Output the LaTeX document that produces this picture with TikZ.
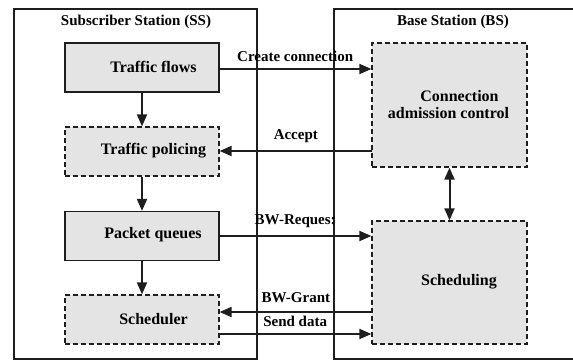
\documentclass[tikz,border=0pt]{standalone}
\usepackage{fontspec}
\setmainfont{Liberation Serif}
\usetikzlibrary{arrows.meta}
\definecolor{boxfill}{HTML}{E4E4E4}
\definecolor{ink}{HTML}{1E1E1E}
\begin{document}
\begin{tikzpicture}[x=1pt,y=-1pt,
  station/.style={draw=ink,line width=1.1pt},
  solidbox/.style={draw=ink,fill=boxfill,line width=1.3pt,minimum width=154pt,minimum height=49pt,inner sep=0pt},
  dashbox/.style={solidbox,dashed,dash pattern=on 5pt off 3pt},
  label/.style={font=\fontsize{16}{17.5}\selectfont\bfseries,align=center,inner sep=0pt},
  title/.style={font=\fontsize{15}{17}\selectfont\bfseries,inner sep=0pt},
  msg/.style={font=\fontsize{15}{16}\selectfont\bfseries,inner sep=0pt},
  flow/.style={draw=ink,line width=2pt,-{Triangle[length=12pt,width=10pt]}},
  dflow/.style={draw=ink,line width=2pt,{Triangle[length=12pt,width=10pt]}-{Triangle[length=12pt,width=10pt]}}]
\useasboundingbox (0,0) rectangle (573,360);
\fill[white] (0,0) rectangle (573,360);

% station frames
\draw[station] (14,9) rectangle (257,359);
\draw[station] (573,9) -- (334,9) -- (334,359) -- (573,359);
\node[title] (sst) at (136,22) {Subscriber Station (SS)};
\node[title] (bst) at (453,22) {Base Station (BS)};

% subscriber station blocks
\node[solidbox] (tf) at (142,67.5) {};
\node[dashbox]  (tp) at (142,151.5) {};
\node[solidbox] (pq) at (142,236) {};
\node[dashbox]  (sc) at (142,319.5) {};
\node[label] (tfl) at (153.5,66.5) {Traffic flows};
\node[label] (tpl) at (153.5,151) {Traffic policing};
\node[label] (pql) at (153,235) {Packet queues};
\node[label] (scl) at (153.5,319) {Scheduler};

% base station blocks
\node[dashbox,minimum width=155pt,minimum height=124pt] (cac) at (449.5,105) {};
\node[dashbox,minimum width=155pt,minimum height=123pt] (sch) at (449.5,282.5) {};
\node[label] (cacl1) at (459.5,96) {Connection};
\node[label] (cacl2) at (448.5,113) {admission control};
\node[label] (schl) at (459,282) {Scheduling};

% internal flow of the subscriber station
\draw[flow] (tf) -- (tp);
\draw[flow] (tp) -- (pq);
\draw[flow] (pq) -- (sc);
\draw[dflow] (cac) -- (sch);

% messages between the stations
\coordinate (c1) at (219,69);
\coordinate (c2) at (372,151);
\coordinate (c3) at (219,236);
\coordinate (c4) at (372,312);
\coordinate (c5) at (219,334);
\draw[flow] (c1) -- (c1 -| cac.west) node[msg,midway,above=6pt] (m1) {Create connection};
\draw[flow] (c2) -- (c2 -| tp.east) node[msg,midway,above=7pt] (m2) {Accept};
\draw[flow] (c3) -- (c3 -| sch.west) node[msg,midway,above=7pt] (m3) {BW-Reques:};
\draw[flow] (c4) -- (c4 -| sc.east) node[msg,midway,above=8pt] (m4) {BW-Grant};
\draw[flow] (c5) -- (c5 -| sch.west) node[msg,midway,above=6pt] (m5) {Send data};
\end{tikzpicture}
\end{document}
